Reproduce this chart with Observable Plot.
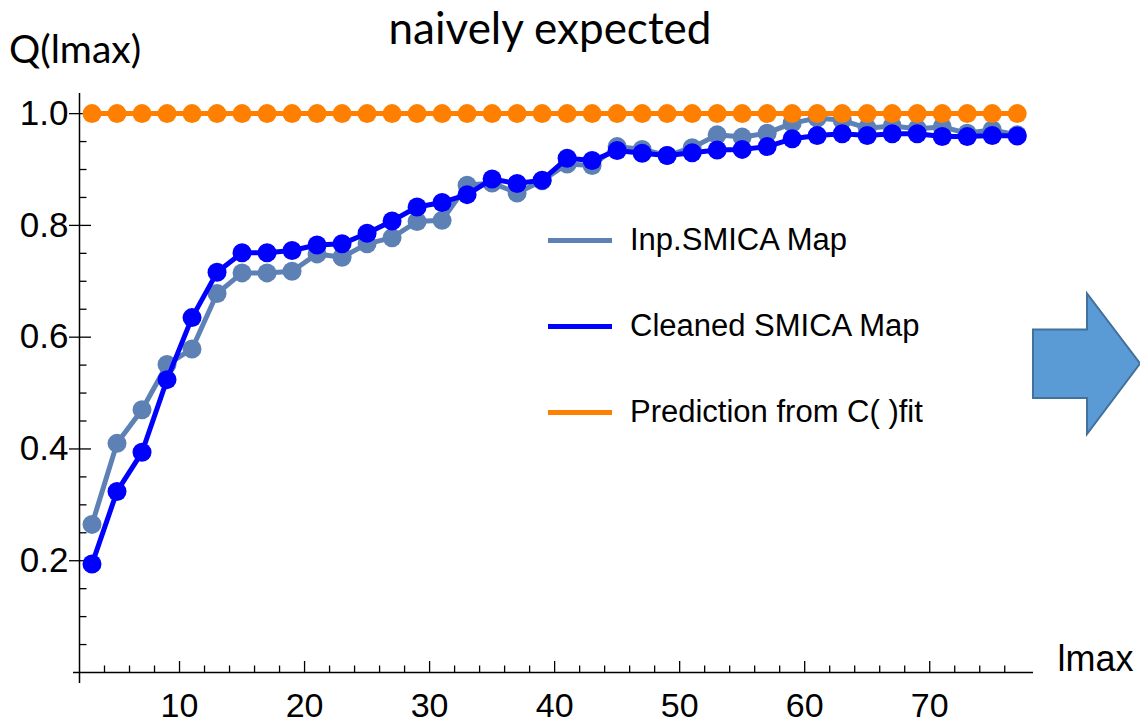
<!DOCTYPE html>
<html>
<head>
<meta charset="utf-8">
<script src="https://cdn.jsdelivr.net/npm/d3@7"></script>
<script src="https://cdn.jsdelivr.net/npm/@observablehq/plot@0.6"></script>
<style>
  body { margin: 0; background: #fff; }
  #wrap { position: relative; width: 1140px; height: 725px; overflow: hidden; background: #fff; }
  #chart { position: absolute; left: 0; top: 0; }
  .title { position: absolute; left: 0; width: 1100px; top: 1px; text-align: center;
           font-family: Lato, "Open Sans", sans-serif; font-size: 44px; line-height: 53px; color: #000; }
  .ylabel { position: absolute; left: 9px; top: 25px;
            font-family: Lato, "Open Sans", sans-serif; font-size: 39px; line-height: 47px; color: #000; }
  .legend-row { position: absolute; left: 548px; height: 30px; }
  .legend-row .swatch { position: absolute; left: 0; width: 64px; height: 5px; }
  .legend-row .label { position: absolute; left: 82px; white-space: nowrap;
                       font-family: "Liberation Sans", Arial, sans-serif; font-size: 31px; line-height: 30px; color: #000; }
  #arrow { position: absolute; left: 0; top: 0; pointer-events: none; }
</style>
</head>
<body>
<div id="wrap">
  <div id="chart"></div>
  <div class="title">naively expected</div>
  <div class="ylabel">Q(lmax)</div>
  <div id="legend"></div>
  <svg id="arrow" width="1140" height="725">
    <polygon points="1033,329.5 1087,329.5 1087,293.5 1140,363.5 1087,434 1087,398 1033,398"
             fill="#5b9bd5" stroke="#41719c" stroke-width="2" stroke-linejoin="miter"/>
  </svg>
</div>
<script>
// Multipole cut-off lmax (odd values 3..77)
const lmax = [3, 5, 7, 9, 11, 13, 15, 17, 19, 21, 23, 25, 27, 29, 31, 33, 35, 37, 39,
              41, 43, 45, 47, 49, 51, 53, 55, 57, 59, 61, 63, 65, 67, 69, 71, 73, 75, 77];

// Q(lmax) for the input SMICA map
const inpSmica = [0.265, 0.410, 0.470, 0.551, 0.579, 0.678, 0.715, 0.715, 0.718, 0.749,
                  0.743, 0.767, 0.778, 0.807, 0.809, 0.872, 0.876, 0.858, 0.880, 0.910,
                  0.907, 0.941, 0.936, 0.925, 0.939, 0.962, 0.958, 0.965, 0.983, 0.992,
                  0.988, 0.974, 0.978, 0.973, 0.976, 0.965, 0.971, 0.962];

// Q(lmax) for the cleaned SMICA map
const cleanedSmica = [0.194, 0.324, 0.394, 0.524, 0.635, 0.716, 0.751, 0.751, 0.755, 0.765,
                      0.767, 0.786, 0.808, 0.833, 0.841, 0.855, 0.883, 0.875, 0.881, 0.920,
                      0.916, 0.934, 0.929, 0.925, 0.930, 0.935, 0.936, 0.941, 0.955, 0.961,
                      0.964, 0.961, 0.964, 0.964, 0.959, 0.959, 0.961, 0.960];

// Prediction from the C(l) fit
const prediction = [1, 1, 1, 1, 1, 1, 1, 1, 1, 1, 1, 1, 1, 1, 1, 1, 1, 1, 1,
                    1, 1, 1, 1, 1, 1, 1, 1, 1, 1, 1, 1, 1, 1, 1, 1, 1, 1, 1];

const seriesNames = ["Inp.SMICA Map", "Cleaned SMICA Map", "Prediction from C( )fit"];
const seriesColors = ["#5e81b5", "#0000ff", "#ff8000"];

// Axis ticks
const xMajorTicks = [10, 20, 30, 40, 50, 60, 70];
const xMinorTicks = [4, 6, 8, 12, 14, 16, 18, 22, 24, 26, 28, 32, 34, 36, 38, 42, 44, 46, 48,
                     52, 54, 56, 58, 62, 64, 66, 68, 72, 74, 76];
const yMajorTicks = [0.2, 0.4, 0.6, 0.8, 1.0];
const yMinorTicks = [0.05, 0.1, 0.15, 0.25, 0.3, 0.35, 0.45, 0.5, 0.55, 0.65, 0.7, 0.75,
                     0.85, 0.9, 0.95];

const seriesValues = [inpSmica, cleanedSmica, prediction];
const rows = seriesValues.map((vals, s) =>
  lmax.map((l, i) => ({lmax: l, q: vals[i], series: seriesNames[s]})));

const dataMarks = rows.flatMap((r, s) => [
  Plot.line(r, {x: "lmax", y: "q", stroke: seriesColors[s], strokeWidth: 5, strokeLinejoin: "round"}),
  Plot.dot(r, {x: "lmax", y: "q", r: 9.5, fill: seriesColors[s], stroke: "none"})
]);

const chart = Plot.plot({
  width: 1140,
  height: 725,
  marginLeft: 79,
  marginRight: 107,
  marginTop: 93,
  marginBottom: 53,
  style: {fontFamily: "'Liberation Sans', Arial, sans-serif", color: "#000", background: "transparent"},
  x: {domain: [2, 78.3], label: null},
  y: {domain: [0, 1.036], label: null},
  marks: [
    // axis lines, crossing at (2, 0) with a short overhang
    Plot.ruleY([0], {stroke: "#000", strokeWidth: 1.5, insetLeft: -6}),
    Plot.ruleX([2], {stroke: "#000", strokeWidth: 1.5, insetBottom: -11}),
    // x ticks (inward)
    Plot.ruleX(xMinorTicks, {x: d => d, y1: 0, y2: 0, insetTop: -6.5, stroke: "#000", strokeWidth: 1.3}),
    Plot.ruleX(xMajorTicks, {x: d => d, y1: 0, y2: 0, insetTop: -11, stroke: "#000", strokeWidth: 1.3}),
    // y ticks
    Plot.ruleY(yMinorTicks, {y: d => d, x1: 2, x2: 2, insetRight: -7.5, stroke: "#000", strokeWidth: 1.3}),
    Plot.ruleY(yMajorTicks, {y: d => d, x1: 2, x2: 2, insetLeft: -10, insetRight: -12, stroke: "#000", strokeWidth: 1.3}),
    // tick labels
    Plot.axisX(xMajorTicks, {tickSize: 0, tickPadding: 20, fontSize: 34, label: null}),
    Plot.axisY(yMajorTicks, {tickSize: 0, tickPadding: 11, fontSize: 35, label: null, tickFormat: d3.format(".1f")}),
    ...dataMarks,
    Plot.text(["lmax"], {frameAnchor: "bottom-right", dx: 24, dy: -2, textAnchor: "start", fontSize: 36, fill: "#000"})
  ]
});
document.getElementById("chart").appendChild(chart);

// Legend rows
const legendY = [240, 326, 412];
const legend = document.getElementById("legend");
seriesNames.forEach((name, i) => {
  const row = document.createElement("div");
  row.className = "legend-row";
  row.style.top = (legendY[i] - 15) + "px";
  const sw = document.createElement("div");
  sw.className = "swatch";
  sw.style.top = "12.5px";
  sw.style.background = seriesColors[i];
  const lab = document.createElement("div");
  lab.className = "label";
  lab.style.top = "0px";
  lab.textContent = name;
  row.appendChild(sw);
  row.appendChild(lab);
  legend.appendChild(row);
});
</script>
</body>
</html>
